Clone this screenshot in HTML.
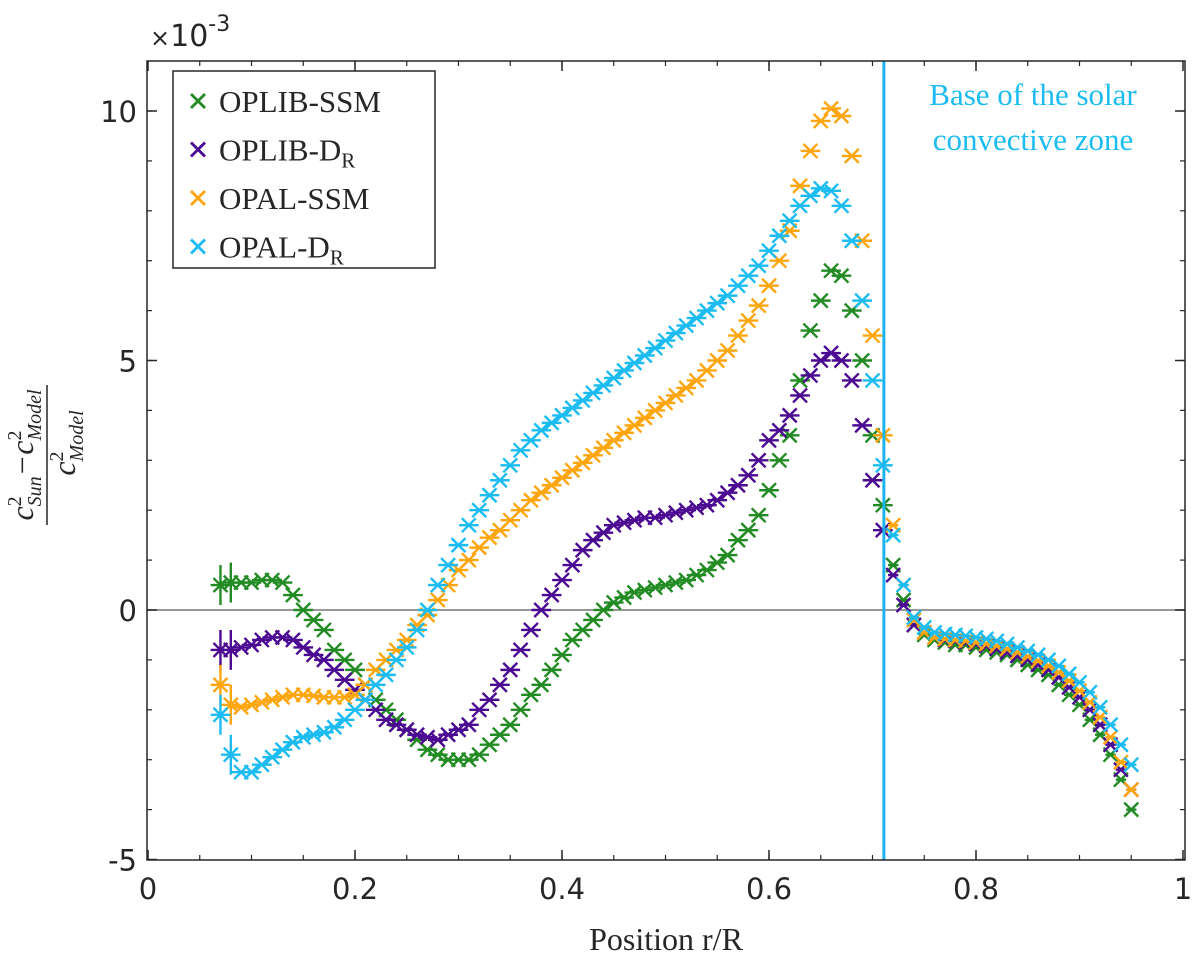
<!DOCTYPE html>
<html><head><meta charset="utf-8"><style>
html,body{margin:0;padding:0;background:#fff;}
svg{display:block;}
</style></head><body>
<svg id="chart" width="1200" height="969" xmlns="http://www.w3.org/2000/svg">
<g id="plot"></g>
</svg>
<script>
const rValues=[0.07,0.08,0.09,0.10,0.11,0.12,0.13,0.14,0.15,0.16,0.17,0.18,0.19,0.20,0.21,0.22,0.23,0.24,0.25,0.26,0.27,0.28,0.29,0.30,0.31,0.32,0.33,0.34,0.35,0.36,0.37,0.38,0.39,0.40,0.41,0.42,0.43,0.44,0.45,0.46,0.47,0.48,0.49,0.50,0.51,0.52,0.53,0.54,0.55,0.56,0.57,0.58,0.59,0.60,0.61,0.62,0.63,0.64,0.65,0.66,0.67,0.68,0.69,0.70,0.71,0.72,0.73,0.74,0.75,0.76,0.77,0.78,0.79,0.80,0.81,0.82,0.83,0.84,0.85,0.86,0.87,0.88,0.89,0.90,0.91,0.92,0.93,0.94,0.95];
const oplibSSM=[0.5,0.55,0.55,0.55,0.6,0.6,0.55,0.3,0.0,-0.2,-0.4,-0.8,-1.0,-1.2,-1.5,-1.8,-2.0,-2.2,-2.4,-2.6,-2.8,-2.9,-3.0,-3.0,-3.0,-2.9,-2.7,-2.5,-2.3,-2.0,-1.7,-1.5,-1.2,-0.9,-0.6,-0.4,-0.2,0.0,0.15,0.25,0.35,0.4,0.45,0.5,0.55,0.6,0.7,0.8,0.95,1.1,1.4,1.6,1.9,2.4,3.0,3.5,4.6,5.6,6.2,6.8,6.7,6.0,5.0,3.5,2.1,0.9,0.2,-0.3,-0.5,-0.6,-0.65,-0.7,-0.7,-0.75,-0.8,-0.85,-0.9,-1.0,-1.1,-1.2,-1.3,-1.5,-1.7,-1.9,-2.2,-2.5,-2.9,-3.4,-4.0];
const oplibDR=[-0.8,-0.8,-0.75,-0.7,-0.6,-0.55,-0.55,-0.6,-0.75,-0.9,-1.0,-1.2,-1.4,-1.6,-1.8,-2.0,-2.2,-2.3,-2.4,-2.5,-2.55,-2.6,-2.5,-2.4,-2.3,-2.0,-1.8,-1.5,-1.2,-0.8,-0.4,0.0,0.3,0.6,0.9,1.2,1.4,1.55,1.7,1.75,1.8,1.85,1.85,1.9,1.95,2.0,2.05,2.1,2.2,2.35,2.5,2.7,3.0,3.4,3.6,3.9,4.3,4.7,5.0,5.15,5.0,4.6,3.7,2.6,1.6,0.7,0.1,-0.3,-0.45,-0.55,-0.6,-0.62,-0.65,-0.68,-0.72,-0.78,-0.85,-0.92,-1.0,-1.1,-1.2,-1.35,-1.55,-1.75,-2.0,-2.3,-2.7,-3.2,-3.6];
const opalSSM=[-1.5,-1.9,-1.95,-1.9,-1.85,-1.8,-1.75,-1.7,-1.7,-1.72,-1.75,-1.75,-1.75,-1.7,-1.5,-1.2,-1.0,-0.8,-0.6,-0.3,-0.1,0.2,0.5,0.8,1.0,1.25,1.45,1.6,1.8,2.0,2.2,2.35,2.5,2.65,2.8,2.95,3.1,3.25,3.4,3.55,3.7,3.85,4.0,4.15,4.3,4.45,4.6,4.8,5.0,5.2,5.5,5.8,6.1,6.5,7.0,7.6,8.5,9.2,9.8,10.05,9.9,9.1,7.4,5.5,3.5,1.7,0.5,-0.2,-0.45,-0.55,-0.58,-0.6,-0.62,-0.65,-0.68,-0.72,-0.78,-0.85,-0.93,-1.02,-1.12,-1.25,-1.42,-1.62,-1.85,-2.15,-2.55,-3.05,-3.6];
const opalDR=[-2.1,-2.9,-3.25,-3.25,-3.1,-2.95,-2.8,-2.65,-2.55,-2.5,-2.45,-2.35,-2.2,-2.0,-1.8,-1.5,-1.3,-1.0,-0.75,-0.4,0.0,0.5,0.9,1.3,1.7,2.0,2.3,2.6,2.9,3.2,3.4,3.6,3.75,3.9,4.05,4.2,4.35,4.5,4.65,4.8,4.95,5.1,5.25,5.4,5.55,5.7,5.85,6.0,6.15,6.3,6.5,6.7,6.9,7.2,7.5,7.8,8.1,8.3,8.45,8.4,8.1,7.4,6.2,4.6,2.9,1.5,0.5,-0.15,-0.35,-0.45,-0.48,-0.5,-0.52,-0.55,-0.58,-0.62,-0.68,-0.75,-0.82,-0.9,-1.0,-1.12,-1.28,-1.45,-1.65,-1.95,-2.3,-2.7,-3.1];
const xTicks=[0,0.2,0.4,0.6,0.8,1];
const xTickLabels=["0","0.2","0.4","0.6","0.8","1"];
const yTicks=[-5,0,5,10];
const yTickLabels=["-5","0","5","10"];
const czBase=[0.711];

const NS="http://www.w3.org/2000/svg";
const X0=147,X1=1185,Y0=61,Y1=860;
const xs=v=>148+v*(1183-148);
const ys=v=>610-v*49.9;
const g=document.getElementById('plot');
function mk(t,a,p){const e=document.createElementNS(NS,t);for(const k in a)e.setAttribute(k,a[k]);(p||g).appendChild(e);return e;}

let e=mk('line',{x1:X0,x2:X1,y1:ys(0),y2:ys(0),stroke:'#777','stroke-width':1.5});



const series=[
 {name:'oplib-ssm',vals:oplibSSM,color:'#238b23'},
 {name:'oplib-dr',vals:oplibDR,color:'#4b0a91'},
 {name:'opal-ssm',vals:opalSSM,color:'#ffa60f'},
 {name:'opal-dr',vals:opalDR,color:'#1cbcf2'}
];
series.forEach(s=>{
 const sg=mk('g',{});
 
 
 rValues.forEach((r,i)=>{
  const v=s.vals[i];const cx=xs(r),cy=ys(v);
  const hw=r<0.72?0.0095:0.005;
  const pg=mk('g',{stroke:s.color,'stroke-width':2.4},sg);
  
  
  mk('line',{x1:xs(r-hw),x2:xs(r+hw),y1:cy,y2:cy},pg);
  if(r<0.085){const ve=0.4;mk('line',{x1:cx,x2:cx,y1:ys(v-ve),y2:ys(v+ve)},pg);}
  const m=7;
  mk('line',{x1:cx-m,y1:cy-m,x2:cx+m,y2:cy+m},pg);
  mk('line',{x1:cx-m,y1:cy+m,x2:cx+m,y2:cy-m},pg);
 });
});
czBase.forEach(c=>{
 e=mk('line',{x1:xs(c),x2:xs(c),y1:Y0,y2:Y1,stroke:'#1cb4ec','stroke-width':3});
 
 
});
e=mk('text',{x:1033,y:105,'font-family':'Liberation Serif, serif','font-size':31,fill:'#1cbcf2','text-anchor':'middle'});
e.textContent='Base of the solar';


e=mk('text',{x:1033,y:150,'font-family':'Liberation Serif, serif','font-size':31,fill:'#1cbcf2','text-anchor':'middle'});
e.textContent='convective zone';



e=mk('rect',{x:X0,y:Y0,width:X1-X0,height:Y1-Y0,fill:'none',stroke:'#262626','stroke-width':1.5});


for(let k=1;k<20;k++){const x=xs(k*0.05);
 mk('line',{x1:x,x2:x,y1:Y1,y2:Y1-5,stroke:'#262626','stroke-width':1.2});
 mk('line',{x1:x,x2:x,y1:Y0,y2:Y0+5,stroke:'#262626','stroke-width':1.2});}
for(let k=-4;k<=10;k++){const y=ys(k);
 mk('line',{x1:X0,x2:X0+5,y1:y,y2:y,stroke:'#262626','stroke-width':1.2});
 mk('line',{x1:X1,x2:X1-5,y1:y,y2:y,stroke:'#262626','stroke-width':1.2});}
xTicks.forEach((t,i)=>{
 const x=xs(t);
 mk('line',{x1:x,x2:x,y1:Y1,y2:Y1-10,stroke:'#262626','stroke-width':1.5});
 mk('line',{x1:x,x2:x,y1:Y0,y2:Y0+10,stroke:'#262626','stroke-width':1.5});
 const tx=mk('text',{x:x,y:899,'font-family':'DejaVu Sans, sans-serif','font-size':29,fill:'#262626','text-anchor':'middle'});
 tx.textContent=xTickLabels[i];
 
 
});
yTicks.forEach((t,i)=>{
 const y=ys(t);
 mk('line',{x1:X0,x2:X0+10,y1:y,y2:y,stroke:'#262626','stroke-width':1.5});
 mk('line',{x1:X1,x2:X1-10,y1:y,y2:y,stroke:'#262626','stroke-width':1.5});
 const tx=mk('text',{x:137,y:y+11,'font-family':'DejaVu Sans, sans-serif','font-size':29,fill:'#262626','text-anchor':'end'});
 tx.textContent=yTickLabels[i];
 
 
});
e=mk('text',{x:150,y:46,'font-family':'DejaVu Sans, sans-serif','font-size':30,fill:'#262626'});
e.innerHTML='<tspan font-size="24">×</tspan>10<tspan dy="-15" font-size="22">-3</tspan>';


e=mk('text',{x:666,y:950,'font-family':'Liberation Serif, serif','font-size':32,fill:'#262626','text-anchor':'middle'});
e.textContent='Position r/R';


const yl=mk('g',{transform:'translate(47,455) rotate(-90)','font-family':'Liberation Serif, serif',fill:'#262626'});


let t=mk('text',{x:0,y:-14,'font-size':32,'text-anchor':'middle','font-style':'italic'},yl);
t.innerHTML='c<tspan dy="-12" font-size="20" font-style="normal">2</tspan><tspan dy="20" dx="-10" font-size="20">Sun</tspan><tspan dy="-8">−c</tspan><tspan dy="-12" font-size="20" font-style="normal">2</tspan><tspan dy="20" dx="-10" font-size="20">Model</tspan>';
mk('line',{x1:-70,x2:70,y1:0,y2:0,stroke:'#262626','stroke-width':1.5},yl);
t=mk('text',{x:12,y:28,'font-size':32,'text-anchor':'middle','font-style':'italic'},yl);
t.innerHTML='c<tspan dy="-12" font-size="20" font-style="normal">2</tspan><tspan dy="20" dx="-10" font-size="20">Model</tspan>';

const lg=mk('g',{});


mk('rect',{x:173,y:71,width:262,height:197,fill:'#fff',stroke:'#262626','stroke-width':1.5},lg);
const labels=['OPLIB-SSM','OPLIB-D<tspan dy="7" font-size="21">R</tspan>','OPAL-SSM','OPAL-D<tspan dy="7" font-size="21">R</tspan>'];
series.forEach((s,i)=>{
 const y=101+i*48.5;
 const eg=mk('g',{},lg);
 
 
 mk('line',{x1:191,y1:y-7,x2:205,y2:y+7,stroke:s.color,'stroke-width':2.8},eg);
 mk('line',{x1:191,y1:y+7,x2:205,y2:y-7,stroke:s.color,'stroke-width':2.8},eg);
 const tt=mk('text',{x:219,y:y+11,'font-family':'Liberation Serif, serif','font-size':31,fill:'#262626'},eg);
 tt.innerHTML=labels[i];
});
</script>
</body></html>
